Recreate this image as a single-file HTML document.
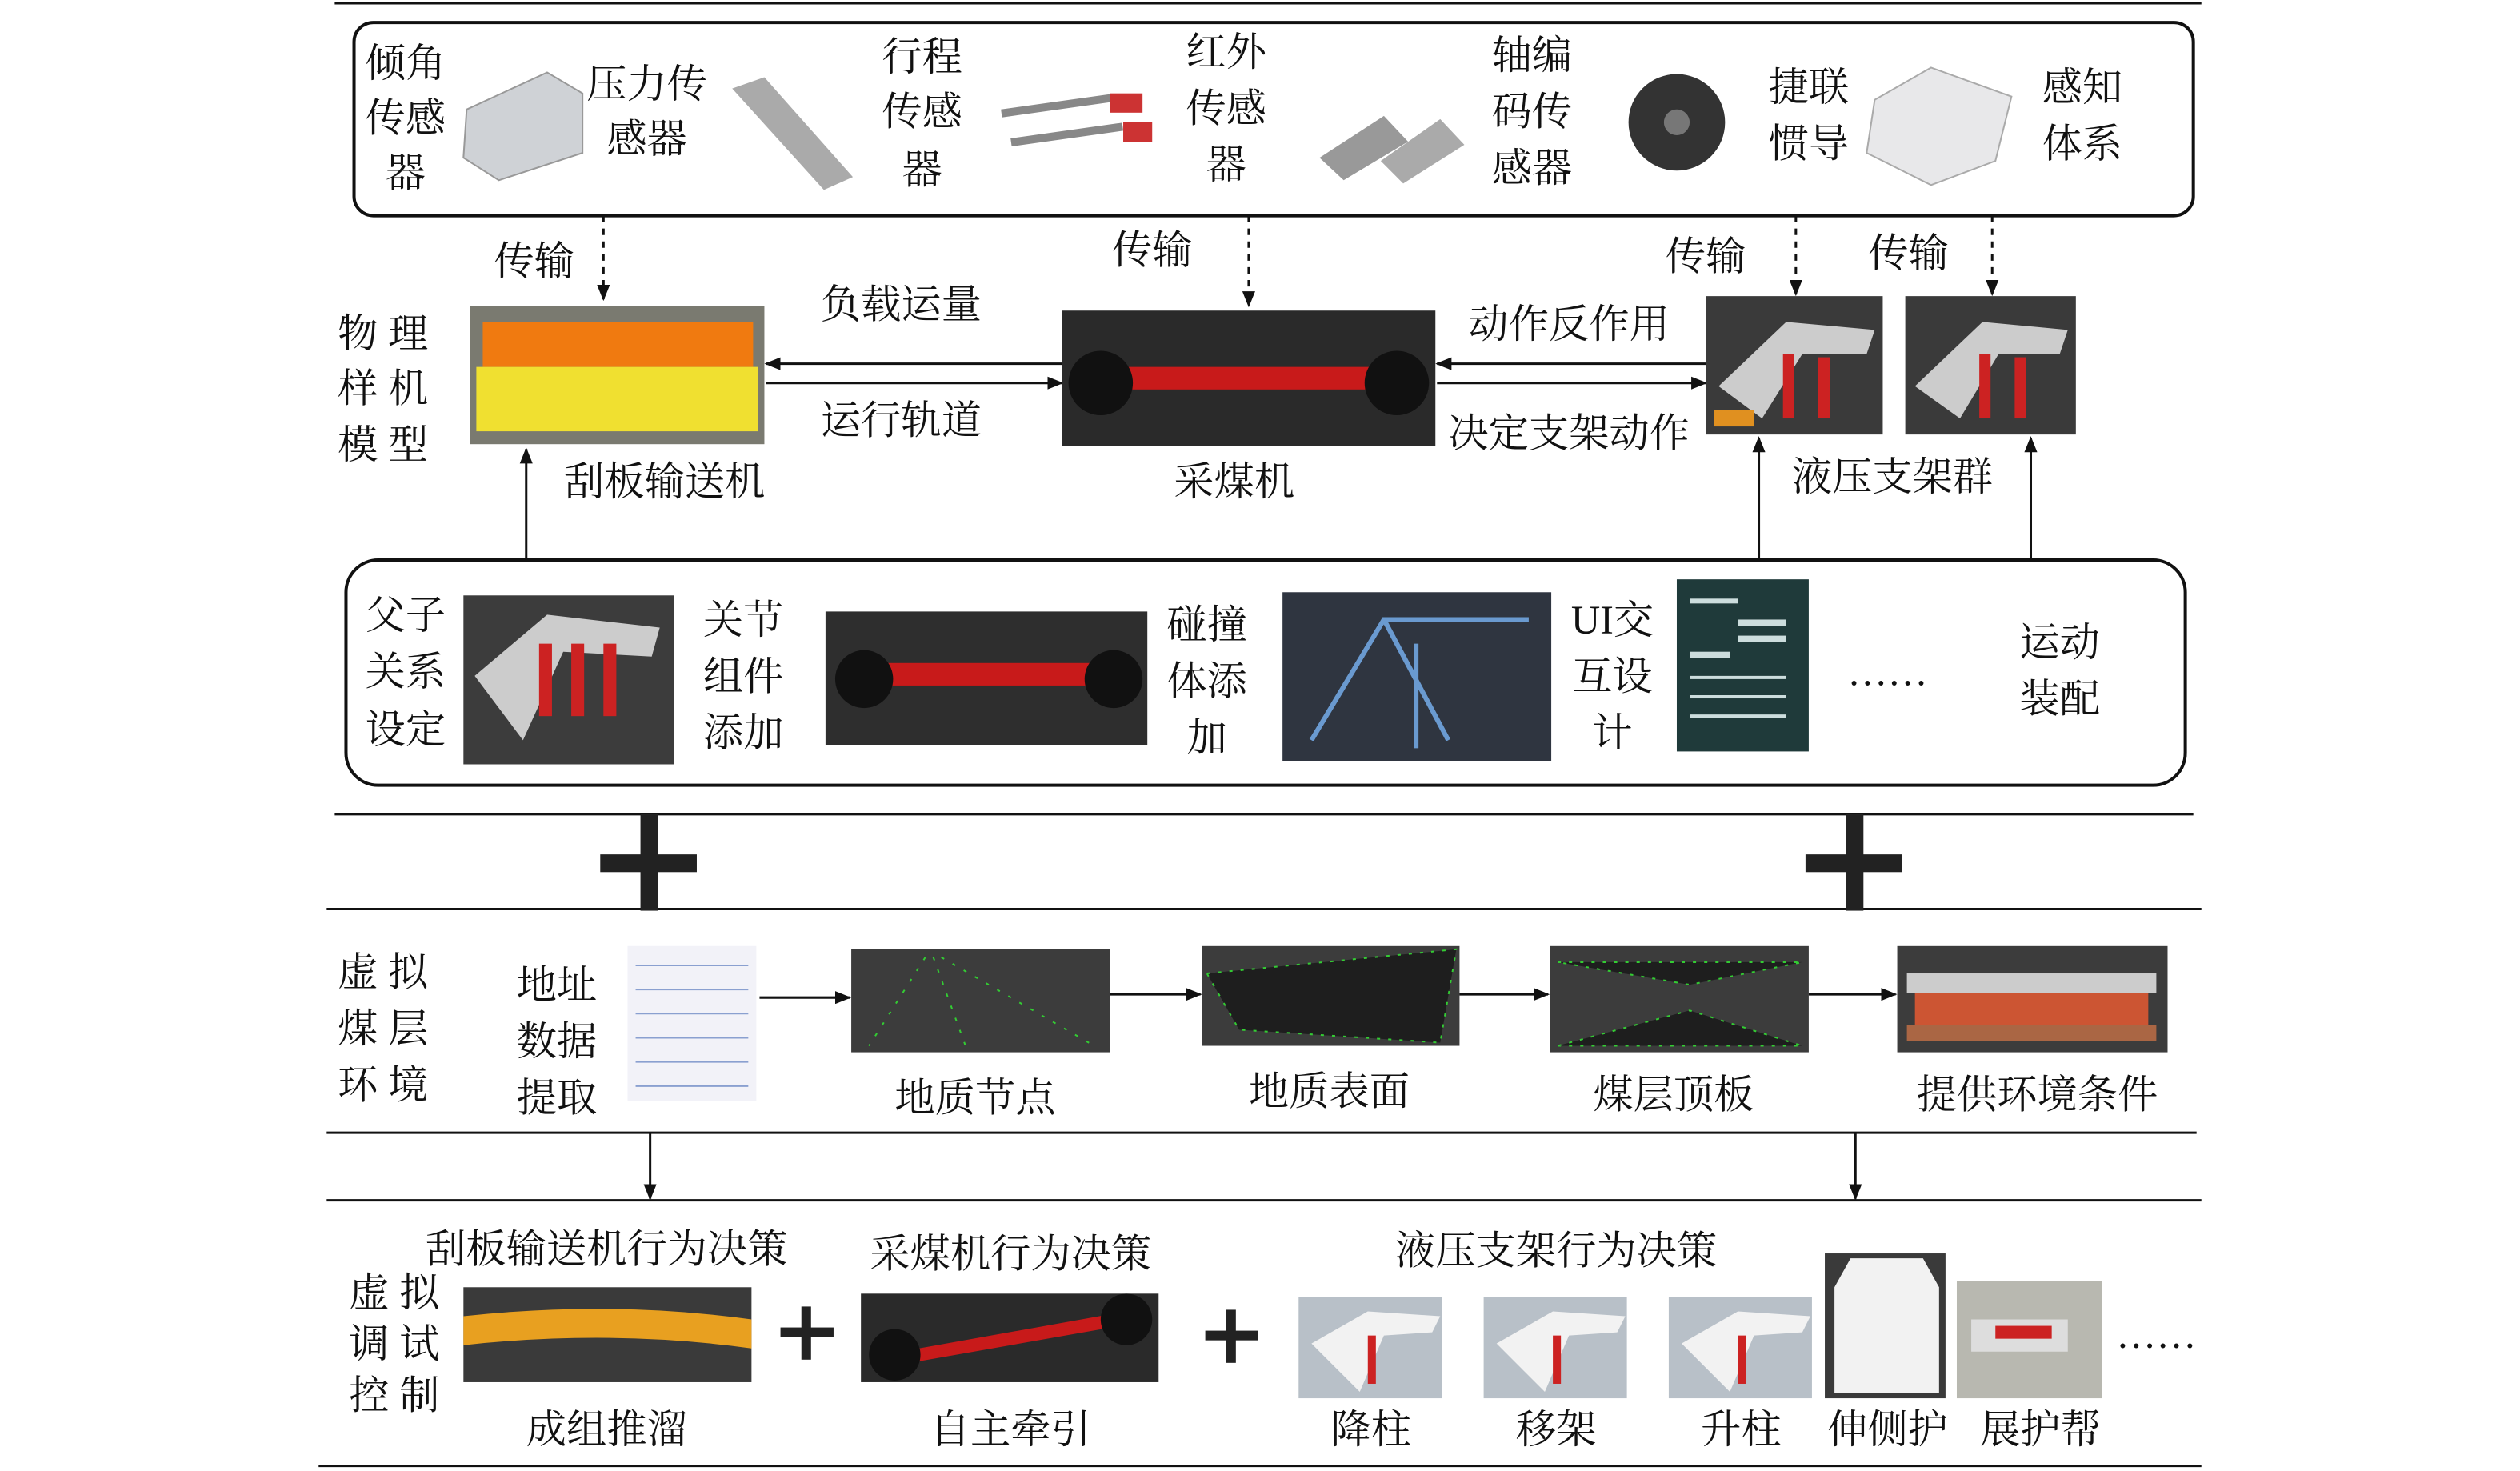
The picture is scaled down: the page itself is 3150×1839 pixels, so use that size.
<!DOCTYPE html>
<html><head><meta charset="utf-8"><style>
html,body{margin:0;padding:0;background:#fff;}
svg{display:block}
text{font-family:"Liberation Serif","Noto Serif CJK SC","Noto Sans CJK SC",serif;font-size:25px;fill:#111;text-anchor:middle;dominant-baseline:middle}
</style></head><body>
<svg width="3150" height="1839" viewBox="0 0 1566 914.2" preserveAspectRatio="none" xmlns="http://www.w3.org/2000/svg">
<defs>
<marker id="a" markerWidth="10" markerHeight="8" refX="9" refY="4" orient="auto" markerUnits="userSpaceOnUse"><path d="M0,0 L10,4 L0,8 Z" fill="#111"/></marker>
</defs>
<g stroke="#111" stroke-width="1.5" fill="none">
<line x1="208" y1="2" x2="1368" y2="2"/>
<rect x="220" y="14" width="1143" height="120" rx="12" stroke-width="2"/>
<rect x="215" y="348" width="1143" height="140" rx="20" stroke-width="2"/>
<line x1="208" y1="506" x2="1363" y2="506"/>
<line x1="203" y1="565" x2="1368" y2="565"/>
<line x1="203" y1="704" x2="1365" y2="704"/>
<line x1="203" y1="746" x2="1368" y2="746"/>
<line x1="198" y1="911" x2="1368" y2="911"/>
<g stroke-dasharray="4,4">
<line x1="375" y1="134" x2="375" y2="186" marker-end="url(#a)"/>
<line x1="776" y1="134" x2="776" y2="190" marker-end="url(#a)"/>
<line x1="1116" y1="134" x2="1116" y2="183" marker-end="url(#a)"/>
<line x1="1238" y1="134" x2="1238" y2="183" marker-end="url(#a)"/>
</g>
<line x1="660" y1="226" x2="476" y2="226" marker-end="url(#a)"/>
<line x1="476" y1="238" x2="660" y2="238" marker-end="url(#a)"/>
<line x1="1060" y1="226" x2="893" y2="226" marker-end="url(#a)"/>
<line x1="893" y1="238" x2="1060" y2="238" marker-end="url(#a)"/>
<line x1="327" y1="348" x2="327" y2="279" marker-end="url(#a)"/>
<line x1="1093" y1="348" x2="1093" y2="272" marker-end="url(#a)"/>
<line x1="1262" y1="348" x2="1262" y2="272" marker-end="url(#a)"/>
<line x1="472" y1="620" x2="528" y2="620" marker-end="url(#a)"/>
<line x1="690" y1="618" x2="746" y2="618" marker-end="url(#a)"/>
<line x1="907" y1="618" x2="962" y2="618" marker-end="url(#a)"/>
<line x1="1124" y1="618" x2="1178" y2="618" marker-end="url(#a)"/>
<line x1="404" y1="704" x2="404" y2="745" marker-end="url(#a)"/>
<line x1="1153" y1="704" x2="1153" y2="745" marker-end="url(#a)"/>
</g>
<g fill="#222">
<rect x="373" y="531" width="60" height="11"/><rect x="398" y="506" width="11" height="60"/>
<rect x="1122" y="531" width="60" height="11"/><rect x="1147" y="506" width="11" height="60"/>
<rect x="485" y="825" width="33" height="6"/><rect x="498" y="812" width="6" height="33"/>
<rect x="749" y="827" width="33" height="6"/><rect x="762" y="814" width="6" height="33"/>
</g>
<g>
<path d="M290,68 L340,45 L362,58 L362,95 L310,112 L288,98Z" fill="#cfd2d6" stroke="#999"/>
<path d="M455,55 L475,48 L530,110 L512,118Z" fill="#aaa"/>
<rect x="622" y="68" width="70" height="5" fill="#888" transform="rotate(-8 622 68)"/>
<rect x="628" y="86" width="70" height="5" fill="#888" transform="rotate(-8 628 86)"/>
<rect x="690" y="58" width="20" height="12" fill="#c33"/><rect x="698" y="76" width="18" height="12" fill="#c33"/>
<path d="M820,98 L860,72 L875,88 L835,112Z" fill="#999"/><path d="M858,100 L895,74 L910,90 L872,114Z" fill="#aaa"/>
<circle cx="1042" cy="76" r="30" fill="#333"/><circle cx="1042" cy="76" r="8" fill="#777"/>
<path d="M1165,62 L1200,42 L1250,60 L1240,100 L1200,115 L1160,95Z" fill="#e8e8ea" stroke="#aaa"/>
</g>
<rect x="292" y="190" width="183" height="86" fill="#7a7a70"/>
<rect x="300" y="200" width="168" height="28" fill="#f07a10"/>
<rect x="296" y="228" width="175" height="40" fill="#f0e030"/>
<rect x="660" y="193" width="232" height="84" fill="#2a2a2a"/>
<rect x="690" y="228" width="172" height="14" fill="#c81a1a"/>
<circle cx="684" cy="238" r="20" fill="#111"/><circle cx="868" cy="238" r="20" fill="#111"/>
<rect x="1060" y="184" width="110" height="86" fill="#3a3a3a"/>
<path d="M1068,240 L1110,200 L1165,205 L1160,220 L1120,220 L1095,260Z" fill="#ccc"/>
<rect x="1108" y="220" width="7" height="40" fill="#c22"/><rect x="1130" y="222" width="7" height="38" fill="#c22"/>
<rect x="1065" y="255" width="25" height="10" fill="#e09020"/>
<rect x="1184" y="184" width="106" height="86" fill="#3a3a3a"/>
<path d="M1190,240 L1232,200 L1285,205 L1280,220 L1242,220 L1218,260Z" fill="#ccc"/>
<rect x="1230" y="220" width="7" height="40" fill="#c22"/><rect x="1252" y="222" width="7" height="38" fill="#c22"/>
<rect x="288" y="370" width="131" height="105" fill="#3c3c3c"/>
<path d="M295,420 L340,382 L410,390 L405,408 L350,405 L325,460Z" fill="#ccc"/>
<rect x="335" y="400" width="8" height="45" fill="#c22"/><rect x="355" y="400" width="8" height="45" fill="#c22"/><rect x="375" y="400" width="8" height="45" fill="#c22"/>
<rect x="513" y="380" width="200" height="83" fill="#2e2e2e"/>
<rect x="540" y="412" width="150" height="14" fill="#c81a1a"/>
<circle cx="537" cy="422" r="18" fill="#111"/><circle cx="692" cy="422" r="18" fill="#111"/>
<rect x="797" y="368" width="167" height="105" fill="#2f3540"/>
<path d="M815,460 L860,385 L950,385 M860,385 L900,460 M880,400 L880,465" stroke="#6a9ad0" stroke-width="3" fill="none"/>
<rect x="1042" y="360" width="82" height="107" fill="#1f3a3a"/>
<g fill="#cdd">
<rect x="1050" y="372" width="30" height="3"/><rect x="1080" y="385" width="30" height="4"/><rect x="1080" y="395" width="30" height="4"/><rect x="1050" y="405" width="25" height="4"/><rect x="1050" y="420" width="60" height="2"/><rect x="1050" y="432" width="60" height="2"/><rect x="1050" y="444" width="60" height="2"/>
</g>
<rect x="390" y="588" width="80" height="96" fill="#f2f2f8"/>
<g stroke="#8aa0d0" stroke-width="1"><line x1="395" y1="600" x2="465" y2="600"/><line x1="395" y1="615" x2="465" y2="615"/><line x1="395" y1="630" x2="465" y2="630"/><line x1="395" y1="645" x2="465" y2="645"/><line x1="395" y1="660" x2="465" y2="660"/><line x1="395" y1="675" x2="465" y2="675"/></g>
<rect x="529" y="590" width="161" height="64" fill="#3c3c3c"/>
<g stroke="#3c3" stroke-width="1" stroke-dasharray="2,6"><line x1="575" y1="595" x2="540" y2="650"/><line x1="580" y1="595" x2="600" y2="650"/><line x1="585" y1="595" x2="680" y2="650"/></g>
<rect x="747" y="588" width="160" height="62" fill="#3c3c3c"/>
<path d="M750,605 L905,590 L895,648 L770,640Z" fill="#1e1e1e" stroke="#3c3" stroke-dasharray="2,5"/>
<rect x="963" y="588" width="161" height="66" fill="#3c3c3c"/>
<path d="M968,598 L1120,598 L1050,612Z M968,650 L1120,650 L1050,628Z" fill="#1e1e1e" stroke="#3c3" stroke-dasharray="2,5"/>
<rect x="1179" y="588" width="168" height="66" fill="#3c3c3c"/>
<rect x="1185" y="605" width="155" height="12" fill="#ccc"/><rect x="1190" y="617" width="145" height="20" fill="#c53"/><rect x="1185" y="637" width="155" height="10" fill="#a64"/>
<rect x="288" y="800" width="179" height="59" fill="#3a3a3a"/>
<path d="M288,818 Q380,808 467,820 L467,838 Q380,826 288,836Z" fill="#e8a020"/>
<rect x="535" y="804" width="185" height="55" fill="#2a2a2a"/>
<path d="M560,840 L700,815 L702,823 L560,848Z" fill="#c81a1a"/>
<circle cx="556" cy="842" r="16" fill="#111"/><circle cx="700" cy="820" r="16" fill="#111"/>
<g>
<rect x="807" y="806" width="89" height="63" fill="#b8c0c8"/><path d="M815,835 L850,815 L895,818 L890,828 L860,830 L845,865Z" fill="#f2f2f2"/><rect x="850" y="830" width="5" height="30" fill="#c22"/>
<rect x="922" y="806" width="89" height="63" fill="#b8c0c8"/><path d="M930,835 L965,815 L1010,818 L1005,828 L975,830 L960,865Z" fill="#f2f2f2"/><rect x="965" y="830" width="5" height="30" fill="#c22"/>
<rect x="1037" y="806" width="89" height="63" fill="#b8c0c8"/><path d="M1045,835 L1080,815 L1125,818 L1120,828 L1090,830 L1075,865Z" fill="#f2f2f2"/><rect x="1080" y="830" width="5" height="30" fill="#c22"/>
<rect x="1134" y="779" width="75" height="90" fill="#3a3a3a"/><path d="M1150,782 L1195,782 L1205,800 L1205,866 L1140,866 L1140,800Z" fill="#f2f2f2"/>
<rect x="1216" y="796" width="90" height="73" fill="#b8b8b0"/><rect x="1225" y="820" width="60" height="20" fill="#ddd"/><rect x="1240" y="824" width="35" height="8" fill="#c22"/>
</g>
<text x="252" y="42">倾角</text><text x="252" y="76">传感</text><text x="252" y="110">器</text>
<text x="402" y="55">压力传</text><text x="402" y="89">感器</text>
<text x="573" y="38">行程</text><text x="573" y="72">传感</text><text x="573" y="108">器</text>
<text x="762" y="35">红外</text><text x="762" y="70">传感</text><text x="762" y="105">器</text>
<text x="952" y="37">轴编</text><text x="952" y="72">码传</text><text x="952" y="107">感器</text>
<text x="1124" y="57">捷联</text><text x="1124" y="92">惯导</text>
<text x="1294" y="57">感知</text><text x="1294" y="92">体系</text>
<text x="332" y="165">传输</text><text x="716" y="158">传输</text><text x="1060" y="162">传输</text><text x="1186" y="160">传输</text>
<text x="238" y="210">物 理</text><text x="238" y="244">样 机</text><text x="238" y="279">模 型</text>
<text x="560" y="192">负载运量</text><text x="560" y="264">运行轨道</text>
<text x="975" y="204">动作反作用</text><text x="975" y="272">决定支架动作</text>
<text x="413" y="302">刮板输送机</text><text x="767" y="302">采煤机</text><text x="1176" y="299">液压支架群</text>
<text x="252" y="385">父子</text><text x="252" y="420">关系</text><text x="252" y="456">设定</text>
<text x="462" y="388">关节</text><text x="462" y="423">组件</text><text x="462" y="458">添加</text>
<text x="750" y="391">碰撞</text><text x="750" y="426">体添</text><text x="750" y="461">加</text>
<text x="1002" y="388">UI交</text><text x="1002" y="423">互设</text><text x="1002" y="458">计</text>
<text x="1173" y="420">……</text>
<text x="1280" y="402">运动</text><text x="1280" y="437">装配</text>
<text x="238" y="607">虚 拟</text><text x="238" y="642">煤 层</text><text x="238" y="677">环 境</text>
<text x="346" y="615">地址</text><text x="346" y="650">数据</text><text x="346" y="685">提取</text>
<text x="606" y="685">地质节点</text><text x="826" y="681">地质表面</text><text x="1040" y="683">煤层顶板</text><text x="1266" y="683">提供环境条件</text>
<text x="377" y="779">刮板输送机行为决策</text>
<text x="245" y="806">虚 拟</text><text x="245" y="838">调 试</text><text x="245" y="870">控 制</text>
<text x="377" y="891">成组推溜</text>
<text x="628" y="782">采煤机行为决策</text><text x="628" y="891">自主牵引</text>
<text x="967" y="780">液压支架行为决策</text>
<text x="852" y="891">降柱</text><text x="967" y="891">移架</text><text x="1082" y="891">升柱</text><text x="1173" y="891">伸侧护</text><text x="1268" y="891">展护帮</text>
<text x="1340" y="832">……</text>
</svg>
</body></html>
